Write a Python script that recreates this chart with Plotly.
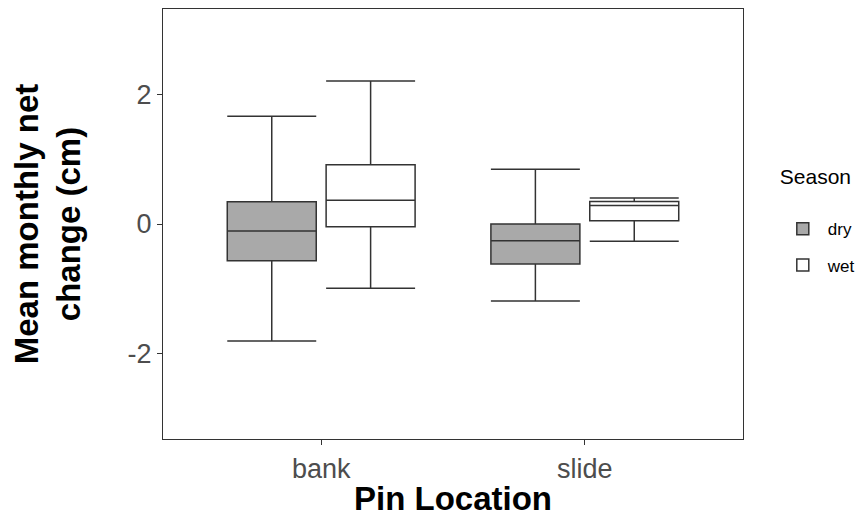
import plotly.graph_objects as go

locations = ["bank", "slide"]
seasons = ["dry", "wet"]

dry_lower = [-1.80, -1.185]
dry_q1 = [-0.565, -0.615]
dry_median = [-0.108, -0.257]
dry_q3 = [0.343, 0.0]
dry_upper = [1.657, 0.842]

wet_lower = [-0.989, -0.266]
wet_q1 = [-0.042, 0.051]
wet_median = [0.365, 0.285]
wet_q3 = [0.912, 0.346]
wet_upper = [2.20, 0.40]

y_tickvals = [-2, 0, 2]
y_ticktext = ["-2", "0", "2"]

fills = {"dry": "#A9A9A9", "wet": "#FFFFFF"}
line_color = "#333333"

fig = go.Figure()
for name, lo, q1, med, q3, up in [
    ("dry", dry_lower, dry_q1, dry_median, dry_q3, dry_upper),
    ("wet", wet_lower, wet_q1, wet_median, wet_q3, wet_upper),
]:
    fig.add_trace(go.Box(
        name=name,
        x=locations,
        lowerfence=lo, q1=q1, median=med, q3=q3, upperfence=up,
        fillcolor=fills[name],
        line=dict(color=line_color, width=1.5),
        whiskerwidth=1,
        boxpoints=False,
        legendgroup=name,
    ))

fig.update_layout(
    width=863, height=517,
    margin=dict(l=163, r=120, t=9, b=78, autoexpand=False),
    paper_bgcolor="white", plot_bgcolor="white",
    boxmode="group", boxgap=0.25, boxgroupgap=0.1,
    font=dict(family="Liberation Sans, Arial, sans-serif", color="black"),
    legend=dict(
        title=dict(text="Season<br><span style='font-size:10px'> </span>",
                   font=dict(size=21, color="black"), side="top"),
        font=dict(size=17, color="black"),
        x=1.06, xanchor="left", y=0.51, yanchor="middle",
        tracegroupgap=11, itemwidth=40,
        bgcolor="rgba(0,0,0,0)",
    ),
    xaxis=dict(
        type="category", range=[-0.6, 1.6],
        showline=True, mirror=True, linecolor=line_color, linewidth=1.2,
        ticks="outside", ticklen=5, tickcolor=line_color, tickwidth=1.1,
        tickfont=dict(size=27, color="#4D4D4D"),
        showgrid=False, zeroline=False,
        title=dict(text="<b>Pin Location</b>", font=dict(size=33, color="black"), standoff=5),
    ),
    yaxis=dict(
        range=[-3.31, 3.31],
        tickvals=y_tickvals, ticktext=y_ticktext,
        showline=True, mirror=True, linecolor=line_color, linewidth=1.2,
        ticks="outside", ticklen=5, tickcolor=line_color, tickwidth=1.1,
        tickfont=dict(size=27, color="#4D4D4D"),
        showgrid=False, zeroline=False,
        title=dict(text="<b>Mean monthly net<br>change (cm)</b>", font=dict(size=33, color="black"), standoff=36),
    ),
)

fig.write_html("out.html")
